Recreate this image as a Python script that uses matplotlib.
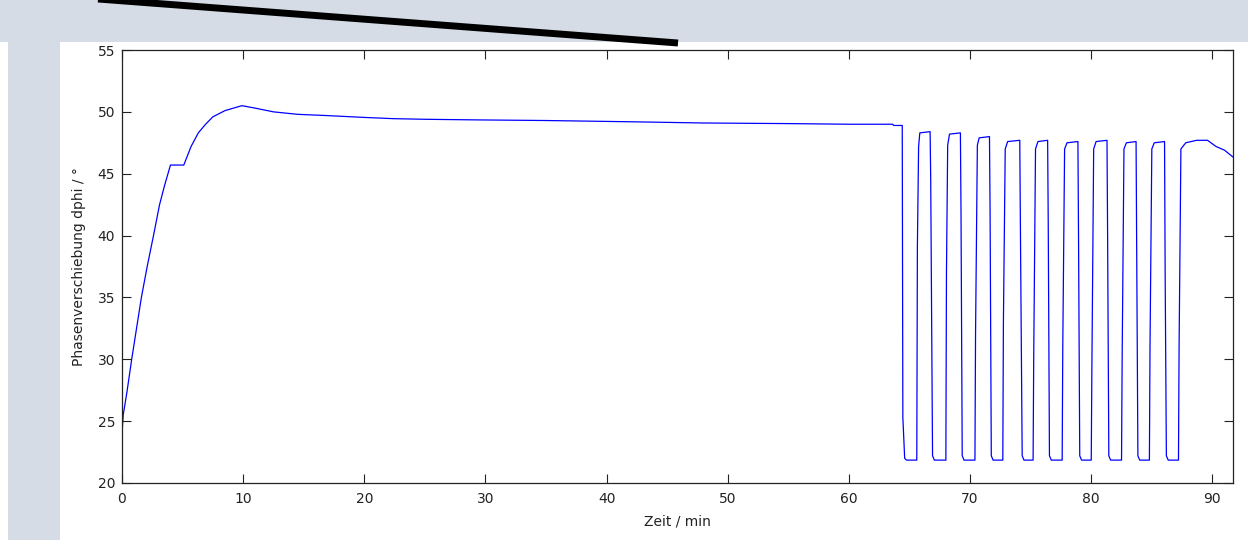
import matplotlib
matplotlib.use('Agg')
import matplotlib.pyplot as plt
from matplotlib.patches import Rectangle
from matplotlib.lines import Line2D

# --- data ---
zeit_min = [
    0.0, 0.1, 0.4, 0.8, 1.2, 1.6, 2.1, 2.6, 3.1, 3.5, 4.0, 5.1, 5.7, 6.3, 6.9,
    7.5, 8.5, 9.9, 11.0, 12.5, 14.5, 16.9, 20.0, 22.4, 25.0, 29.3, 35.0, 41.9,
    48.0, 55.1, 60.0, 63.6, 63.7, 64.4,
    # cycle 1
    64.45, 64.6, 64.75, 65.6, 65.65, 65.75, 65.85, 66.7, 66.75, 66.9, 67.05,
    # cycle 2
    68.0, 68.05, 68.15, 68.3, 69.2, 69.25, 69.35, 69.5,
    # cycle 3
    70.4, 70.45, 70.6, 70.75, 71.6, 71.65, 71.75, 71.9,
    # cycle 4
    72.7, 72.75, 72.9, 73.1, 74.1, 74.15, 74.3, 74.45,
    # cycle 5
    75.2, 75.25, 75.4, 75.6, 76.4, 76.45, 76.55, 76.7,
    # cycle 6
    77.6, 77.65, 77.8, 78.0, 78.9, 78.95, 79.05, 79.2,
    # cycle 7
    80.0, 80.05, 80.2, 80.4, 81.3, 81.35, 81.45, 81.6,
    # cycle 8
    82.5, 82.55, 82.7, 82.9, 83.7, 83.75, 83.85, 84.0,
    # cycle 9
    84.8, 84.85, 85.0, 85.2, 86.05, 86.1, 86.2, 86.35,
    # tail
    87.2, 87.25, 87.4, 87.8, 88.7, 89.6, 90.3, 91.0, 91.7,
]
dphi_deg = [
    24.0, 25.5, 27.3, 30.0, 32.5, 35.0, 37.6, 40.0, 42.5, 44.0, 45.7, 45.7, 47.2, 48.3, 49.0,
    49.6, 50.1, 50.5, 50.3, 50.0, 49.8, 49.7, 49.55, 49.45, 49.4, 49.35, 49.3, 49.2,
    49.1, 49.05, 49.0, 49.0, 48.9, 48.9,
    25.3, 22.0, 21.85, 21.85, 39.1, 47.2, 48.3, 48.4, 44.5, 22.2, 21.85,
    21.85, 37.0, 47.3, 48.2, 48.3, 42.0, 22.2, 21.85,
    21.85, 32.0, 47.3, 47.9, 48.0, 42.0, 22.2, 21.85,
    21.85, 33.0, 47.0, 47.6, 47.7, 41.0, 22.2, 21.85,
    21.85, 30.0, 47.0, 47.6, 47.7, 41.0, 22.2, 21.85,
    21.85, 31.0, 47.0, 47.5, 47.6, 40.0, 22.2, 21.85,
    21.85, 29.0, 47.0, 47.6, 47.7, 40.0, 22.2, 21.85,
    21.85, 30.0, 47.0, 47.5, 47.6, 39.0, 22.2, 21.85,
    21.85, 31.0, 47.0, 47.5, 47.6, 37.0, 22.2, 21.85,
    21.85, 31.0, 47.0, 47.5, 47.7, 47.7, 47.2, 46.9, 46.35,
]
x_ticks = [0, 10, 20, 30, 40, 50, 60, 70, 80, 90]
y_ticks = [20, 25, 30, 35, 40, 45, 50, 55]

plt.rcParams['font.family'] = ['DejaVu Sans']

fig = plt.figure(figsize=(12.48, 5.4), dpi=100)
fig.patch.set_facecolor('#d5dce6')

# white panel behind the axes (screenshot look)
fig.add_artist(Rectangle((60 / 1248, 0), 1 - 60 / 1248, 1 - 42 / 540,
                         transform=fig.transFigure, facecolor='white',
                         edgecolor='none', zorder=0))
fig.add_artist(Rectangle((0, 0), 8 / 1248, 1 - 42 / 540,
                         transform=fig.transFigure, facecolor='white',
                         edgecolor='none', zorder=0))
# thick black pointer line at the top
fig.add_artist(Line2D([98 / 1248, 678 / 1248], [1 + 1 / 540, 1 - 43 / 540],
                      transform=fig.transFigure, color='black', linewidth=5,
                      solid_capstyle='butt', zorder=1))

ax = fig.add_axes([122 / 1248, 1 - 483 / 540, (1233 - 122) / 1248, (483 - 50) / 540])
ax.set_facecolor('white')
ax.plot(zeit_min, dphi_deg, color='#0000ff', linewidth=0.9)

ax.set_xlim(0, 91.7)
ax.set_ylim(20, 55)
ax.set_xticks(x_ticks)
ax.set_yticks(y_ticks)
ax.tick_params(direction='in', length=6.5, width=0.8, color='#222222',
               top=True, right=True, labelsize=10, labelcolor='#222222')
ax.tick_params(axis='x', pad=6.5)
ax.tick_params(axis='y', pad=5)
for s in ax.spines.values():
    s.set_linewidth(0.9)
    s.set_color('#222222')

ax.set_xlabel('Zeit / min', fontsize=10, labelpad=6, color='#222222')
ax.set_ylabel('Phasenverschiebung dphi / °', fontsize=10, labelpad=8, color='#222222')

plt.savefig('out.png', dpi=100, facecolor=fig.get_facecolor())
